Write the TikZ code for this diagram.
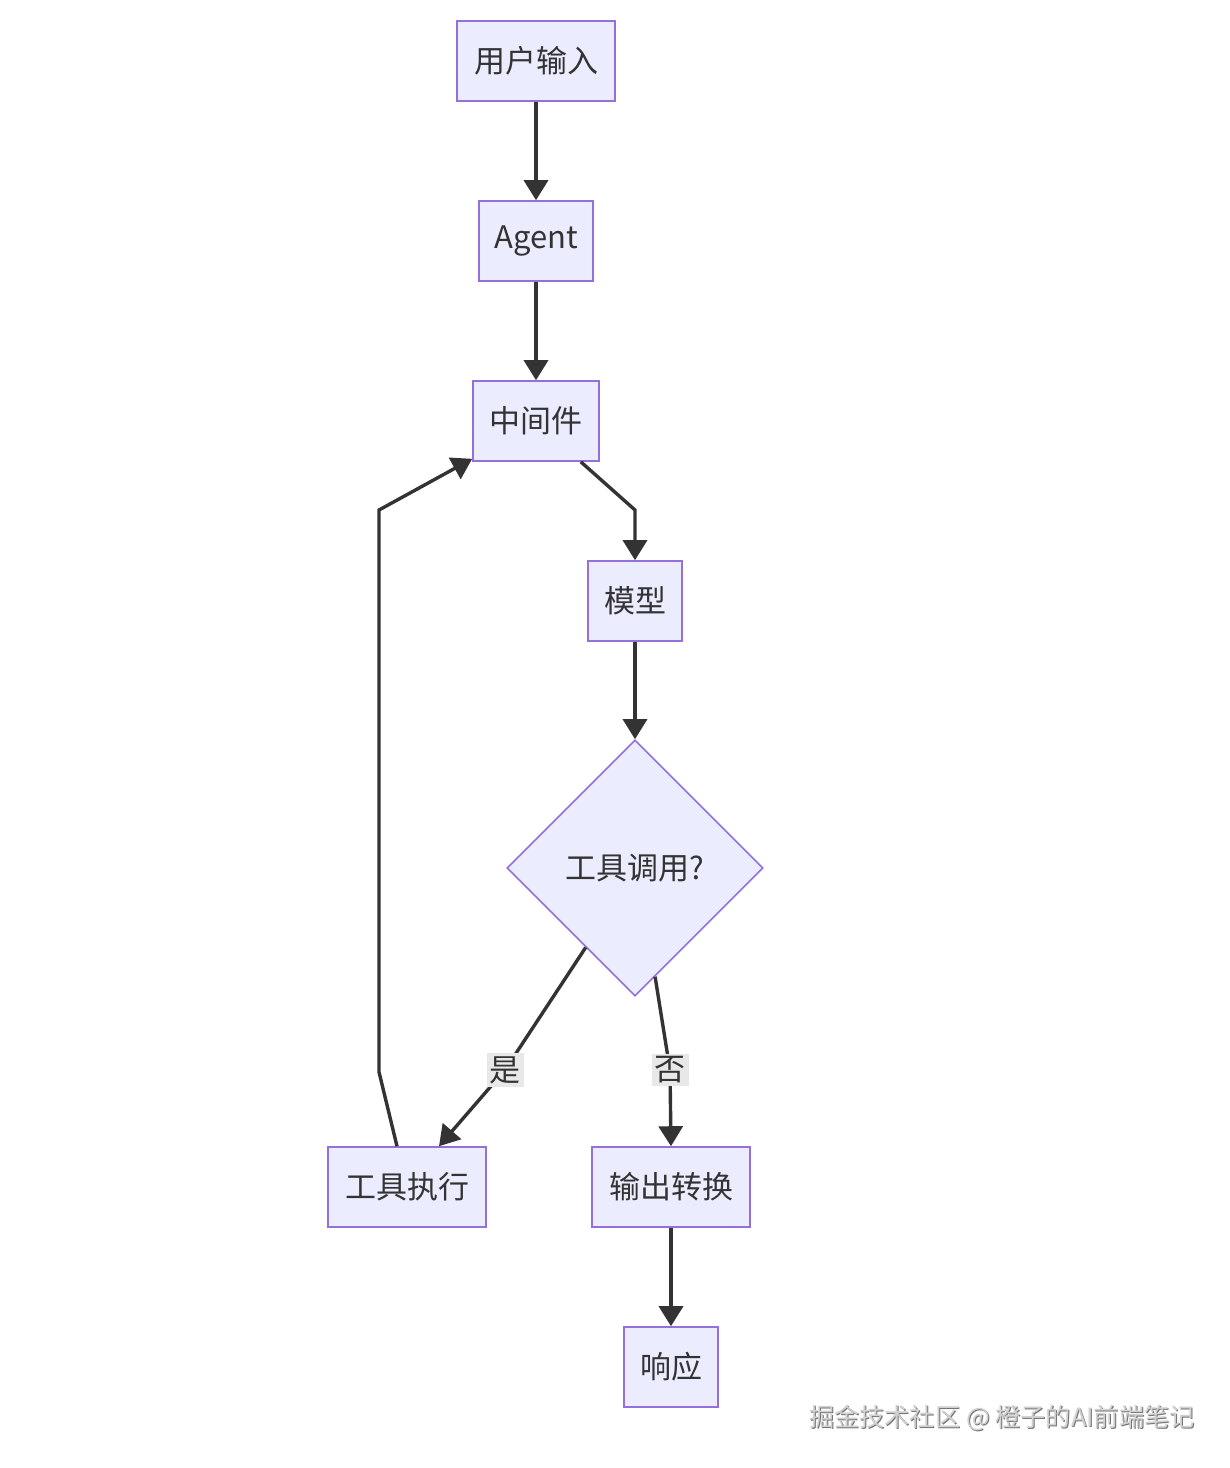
\documentclass[tikz,border=0pt]{standalone}
\usepackage{fontspec}
\setmainfont{Noto Sans CJK SC}
\usetikzlibrary{shapes.geometric,arrows.meta,calc}
\definecolor{nodefill}{HTML}{ECECFF}
\definecolor{nodeborder}{HTML}{9370DB}
\definecolor{linecol}{HTML}{333333}
\definecolor{labelbg}{HTML}{E8E8E8}
\begin{document}
\begin{tikzpicture}[x=0.5pt,y=-0.5pt,
  box/.style={draw=nodeborder,fill=nodefill,line width=0.8pt,inner sep=0pt,
    minimum height=40pt,text=linecol,font=\fontsize{15.5pt}{18pt}\selectfont},
  decision/.style={diamond,draw=nodeborder,fill=nodefill,line width=0.8pt,inner sep=0pt,
    minimum width=128pt,minimum height=128pt,text=linecol,font=\fontsize{15.5pt}{18pt}\selectfont},
  flow/.style={draw=linecol,line width=1.7pt,-{Triangle[length=10pt,width=12pt]}},
  elabel/.style={fill=labelbg,inner sep=1.5pt,text=linecol,font=\fontsize{15.5pt}{18pt}\selectfont}]
\useasboundingbox[fill=white] (0,0) rectangle (1230,1468);

\node[box,minimum width=79pt] (input) at (536,61) {用户输入};
\node[box,minimum width=57pt] (agent) at (536,241) {Agent};
\node[box,minimum width=63pt] (mid) at (536,421) {中间件};
\node[box,minimum width=47pt] (model) at (635,601) {模型};
\node[decision] (dia) at (635,868) {工具调用?};
\node[box,minimum width=79pt] (tool) at (407,1187) {工具执行};
\node[box,minimum width=79pt] (conv) at (671,1187) {输出转换};
\node[box,minimum width=47pt] (resp) at (671,1367) {响应};

\coordinate (b1) at (635,510);
\coordinate (b2) at (379,1072);
\coordinate (b3) at (379,510);
\coordinate (yes) at (505,1070);
\coordinate (no) at (670,1070);

\draw[flow] (input) -- (agent);
\draw[flow] (agent) -- (mid);
\draw[flow] ([xshift=-9.5pt]mid.south east) -- (b1) -- (model.north);
\draw[flow] (model) -- (dia.north);
\draw[flow] ($(dia.west)!0.617!(dia.south)$) -- (yes) -- ([xshift=16pt]tool.north);
\node[elabel] (yeslabel) at (yes) {是};
\draw[flow] ($(dia.south)!0.156!(dia.east)$) -- (no) -- (conv.north);
\node[elabel] (nolabel) at (no) {否};
\draw[flow] ([xshift=-5pt]tool.north) -- (b2) -- (b3) -- ([yshift=1.5pt]mid.south west);
\draw[flow] (conv) -- (resp);

\node[text=black!55,inner sep=0pt,font=\fontsize{12.6pt}{15pt}\selectfont,anchor=east] (wm0) at (1196,1419) {掘金技术社区 @ 橙子的AI前端笔记};
\node[text=black!18,inner sep=0pt,font=\fontsize{12.6pt}{15pt}\selectfont,anchor=east] (wm) at (1195,1418) {掘金技术社区 @ 橙子的AI前端笔记};
\end{tikzpicture}
\end{document}
